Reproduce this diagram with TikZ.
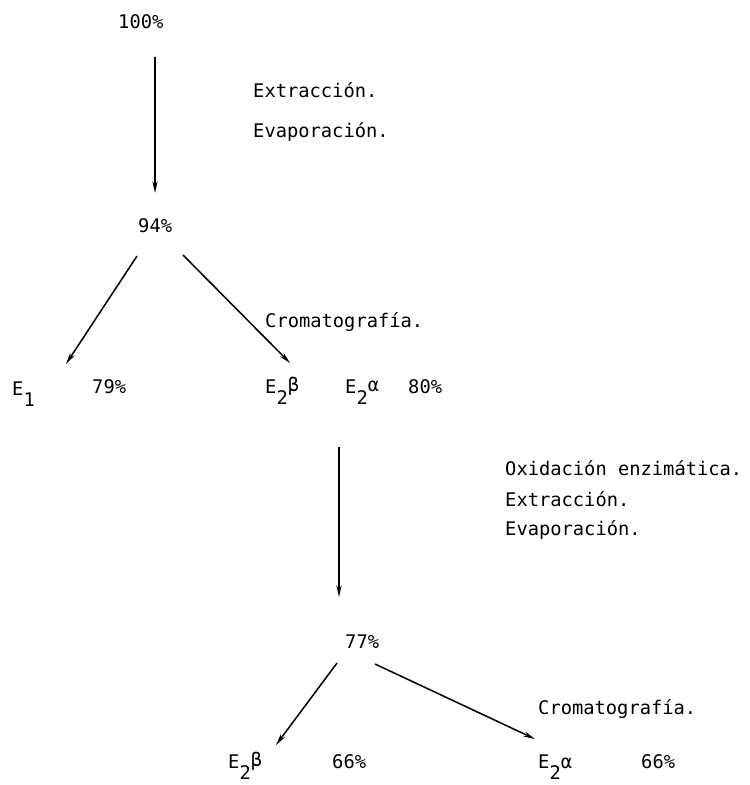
\documentclass[tikz,border=0pt]{standalone}
\usepackage{fontspec}
\newfontfamily\plotter{DejaVu Sans Mono}
\usetikzlibrary{arrows.meta,calc}
\newcommand{\lowsub}[1]{\raisebox{-10pt}{#1}}
\newcommand{\upsup}[1]{\raisebox{1.5pt}{#1}}

\begin{document}
\begin{tikzpicture}[
    x=0.03cm, y=-0.03cm,
    txt/.style={anchor=base west, inner sep=0pt, font={\plotter\fontsize{16}{19}\selectfont}},
    flow/.style={-{Stealth[length=10pt,width=4.5pt]}, line width=1.3pt},
  ]
    \useasboundingbox (0,0) rectangle (749,785);

    % Nodes
    \node[txt] (p100) at (118,28) {100\%};
    \node[txt] (p94) at (138,232) {94\%};
    \node[txt] (e1) at (12,395) {E\lowsub{1}};
    \node[txt] (p79) at (92,393) {79\%};
    \node[txt] (e2b) at (265,393) {E\lowsub{2}\upsup{β}};
    \node[txt] (e2a) at (345,393) {E\lowsub{2}\upsup{α}};
    \node[txt] (p80) at (408,393) {80\%};
    \node[txt] (p77) at (345,648) {77\%};
    \node[txt] (e2bb) at (228,768) {E\lowsub{2}\upsup{β}};
    \node[txt] (p66a) at (332,768) {66\%};
    \node[txt] (e2ab) at (538,768) {E\lowsub{2}α};
    \node[txt] (p66b) at (641,768) {66\%};

    % Steps
    \node[txt] (ext1) at (253,97) {Extracción.};
    \node[txt] (evap1) at (253,137) {Evaporación.};
    \node[txt] (crom1) at (265,327) {Cromatografía.};
    \node[txt] (oxid) at (505,475) {Oxidación enzimática.};
    \node[txt] (ext2) at (505,506) {Extracción.};
    \node[txt] (evap2) at (505,535) {Evaporación.};
    \node[txt] (crom2) at (538,714) {Cromatografía.};

    % Flow
    \draw[flow] ($(p100.base west)+(37,29)$) -- ($(p94.base west)+(17,-39)$);
    \draw[flow] ($(p94.base west)+(-1,24)$) -- ($(e1.base west)+(54,-31)$);
    \draw[flow] ($(p94.base west)+(45,23)$) -- ($(e2b.base west)+(25,-30)$);
    \draw[flow] ($(e2a.base west)+(-6,54)$) -- ($(p77.base west)+(-6,-51)$);
    \draw[flow] ($(p77.base west)+(-8,15)$) -- ($(e2bb.base west)+(48,-23)$);
    \draw[flow] ($(p77.base west)+(30,16)$) -- ($(e2ab.base west)+(-3,-29)$);
  \end{tikzpicture}
\end{document}
